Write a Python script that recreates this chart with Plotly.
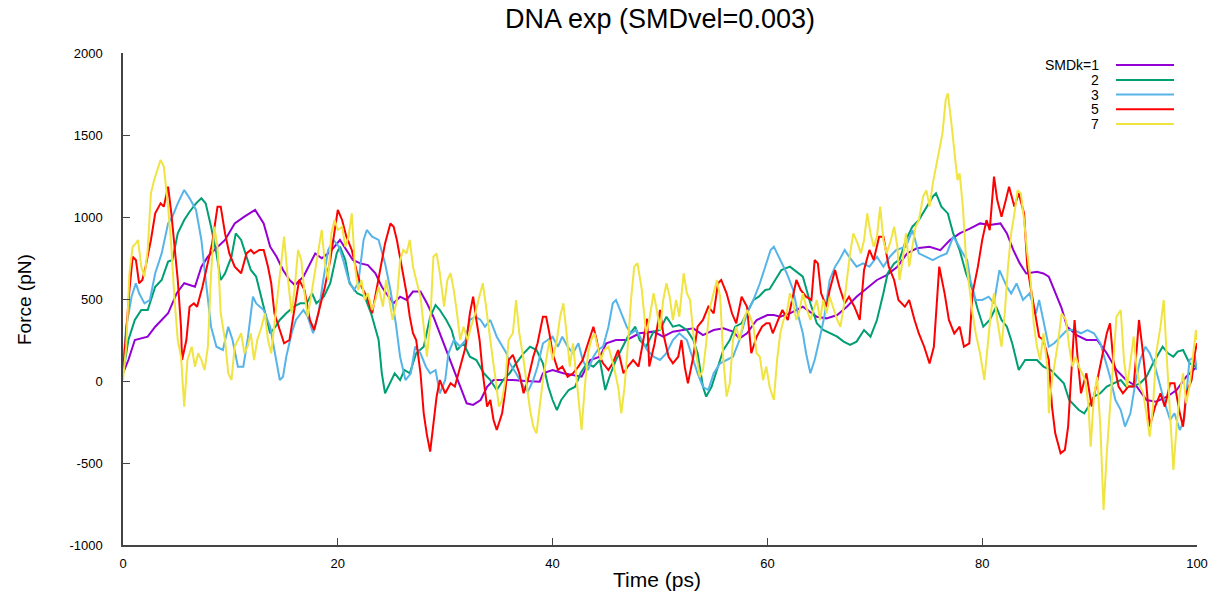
import plotly.graph_objects as go

# ---------------- data ----------------
t_k1 = [0, 0.5, 1.1, 2.3, 3, 4.2, 5, 5.7, 6.7, 7.3, 7.9, 8.5, 9.5, 10.4, 11.3, 12.3,
        13.1, 13.7, 14.3, 14.9, 15.5, 16, 16.8, 17.4, 17.9, 18.5, 19.1, 19.7, 20.2, 20.8,
        21.4, 22.1, 22.8, 23.5, 24.1, 24.5, 25.2, 25.8, 26.4, 27, 27.7, 28.3, 28.9, 29.5,
        30.1, 30.8, 31.4, 32, 32.6, 33.3, 33.9, 34.5, 35.4, 36.3, 37.5, 38.8, 39.1, 40, 41,
        41.9, 42.7, 43.5, 44.4, 45, 45.9, 46.9, 48.1, 49.4, 50.3, 51.2, 52.2, 53.1, 54, 55,
        55.9, 56.8, 57.4, 58.1, 59, 60, 60.6, 61.2, 62.1, 63.3, 64.6, 65.5, 66.5, 67.4, 68.3,
        69.3, 70.2, 71.1, 72.1, 73, 73.9, 75.1, 76.1, 77, 77.9, 78.9, 79.8, 80.7, 81.7, 82.3,
        82.9, 83.5, 84.1, 85.1, 85.7, 86.2, 86.8, 87.4, 87.9, 88.8, 89.7, 90.7, 91.6, 92.5,
        93.4, 94.4, 95.3, 96.2, 97.2, 98.1, 99, 100]
f_k1 = [47, 128, 250, 270, 331, 413, 535, 596, 575, 697, 758, 799, 860, 961, 1002, 1043,
        961, 819, 758, 677, 616, 585, 636, 717, 778, 748, 778, 819, 860, 799,
        738, 717, 707, 656, 575, 535, 474, 514, 494, 545, 545, 474, 392, 291,
        189, 67, -35, -136, -146, -116, -35, 6, 6, 6, 0, -4, 47, 67, 47,
        37, 26, 128, 148, 230, 250, 250, 291, 301, 270, 301, 311, 321, 280, 311,
        321, 301, 260, 291, 372, 402, 402, 392, 413, 453, 392, 382, 402, 453, 514,
        565, 616, 646, 697, 778, 809, 819, 798, 859, 900, 931, 961, 951, 961, 900,
        798, 717, 656, 666, 656, 636, 535, 443, 331, 280, 250, 250, 169, 67,
        6, -35, -116, -126, -96, -55, 26, 87]

t_k2 = [0, 0.5, 1.1, 1.7, 2.3, 3, 3.6, 4.2, 4.6, 5.1, 5.7, 6.2, 6.8, 7.3, 7.7, 8.2, 8.7,
        9.1, 9.5, 10.1, 10.5, 11, 11.4, 11.9, 12.4, 12.9, 13.4, 13.7, 14.2, 14.6, 15.2,
        15.9, 16.5, 17.1, 17.6, 18, 18.7, 19.3, 19.9, 20.2, 20.7, 21.1, 21.8, 22.5, 23.1,
        23.8, 24.1, 24.4, 24.7, 25.3, 25.8, 26.2, 26.7, 27.3, 28, 28.6, 29.1, 29.5, 30.1,
        30.6, 31.1, 31.7, 32.3, 32.9, 33.6, 34.2, 34.8, 35.4, 36, 36.6, 37.3, 37.9, 38.5,
        39.1, 39.6, 40, 40.4, 40.8, 41.5, 42.1, 42.6, 43.2, 43.8, 44.4, 44.9, 45.3, 45.9,
        46.5, 47, 47.7, 48.1, 48.7, 49.4, 50, 50.6, 51.2, 51.8, 52.5, 53.1, 53.5, 54, 54.3,
        54.8, 55.2, 55.9, 56.5, 57, 57.6, 58.1, 58.7, 59.2, 59.8, 60.2, 60.7, 61.3, 62.1,
        62.7, 63.3, 64, 64.6, 65.2, 65.8, 66.5, 67.1, 67.7, 68.3, 69, 69.6, 70.2, 70.8,
        71.2, 71.8, 72.3, 72.9, 73.5, 74.1, 74.8, 75.4, 75.7, 76.2, 76.8, 77.3, 77.9, 78.5,
        79.1, 79.6, 80.1, 80.7, 81.3, 81.8, 82.3, 82.8, 83.4, 84, 84.6, 85.1, 85.7, 86.4,
        87, 87.6, 88.1, 88.5, 89, 89.5, 89.9, 90.4, 91, 91.6, 92.3, 92.9, 93.4, 94, 94.7,
        95.3, 95.9, 96.4, 96.8, 97.3, 97.8, 98.2, 98.7, 99.3, 99.9, 100]
f_k2 = [47, 250, 372, 433, 433, 575, 616, 728, 738, 900, 982, 1032, 1083, 1114, 1083, 941, 778,
        616, 656, 758, 900, 860, 778, 677, 636, 494, 372, 291, 331, 372, 413,
        453, 474, 474, 535, 474, 514, 596, 778, 819, 738, 596, 535, 514, 413,
        250, 47, -75, -35, 47, 6, 67, 47, 169, 209, 392, 463, 433, 372,
        311, 189, 230, 148, 128, 47, 6, -55, 6, 47, 108, 169, 209, 189,
        108, -35, -116, -177, -116, -55, -35, 47, 108, 87, 128, -55, 26, 128,
        209, 270, 331, 250, 209, 301, 311, 392, 331, 341, 311, 250, 169, -35, -95,
        -35, 47, 189, 250, 331, 352, 413, 494, 514, 555, 560, 616, 677, 697,
        667, 636, 474, 352, 311, 291, 270, 240, 220, 240, 311, 270, 372, 535,
        657, 717, 740, 859, 941, 981, 1063, 1124, 1144, 1063, 1022, 900, 798, 656,
        555, 433, 331, 372, 453, 372, 331, 229, 67, 128, 128, 128, 88, 67,
        26, -14, -116, -146, -177, -197, -156, -95, -75, -34, -14, 6, -34, -34, -14,
        26, 108, 169, 209, 169, 148, 179, 189, 108, 88, 100]

t_k3 = [0, 0.3, 0.8, 1.2, 1.5, 2, 2.5, 3, 3.6, 4.2, 4.6, 5.1, 5.7, 6.2, 6.8, 7.3, 7.7, 8.2,
        8.7, 9.3, 9.8, 10.2, 10.7, 11.2, 11.6, 12.1, 12.4, 13.1, 13.7, 14.2, 14.6, 14.9,
        15.2, 15.7, 16.1, 16.8, 17.2, 17.7, 18.2, 18.6, 19.1, 19.6, 20.1, 20.5, 21, 21.5,
        21.9, 22.4, 22.7, 23.2, 23.8, 24.4, 24.9, 25.4, 25.8, 26.3, 26.8, 27.2, 27.7, 28.2,
        28.6, 29.1, 29.5, 30, 30.3, 30.8, 31.4, 31.9, 32.3, 32.8, 33.3, 33.7, 34.2, 34.8,
        35.3, 35.7, 36, 36.6, 37.3, 37.7, 38.2, 38.6, 39.1, 39.6, 40, 40.5, 40.9, 41.4,
        41.9, 42.4, 42.8, 43.3, 43.8, 44.2, 44.7, 45.2, 45.6, 45.9, 46.4, 46.9, 47.3, 47.8,
        48.3, 48.8, 49.4, 50, 50.6, 51.2, 51.8, 52.5, 53.1, 53.5, 54, 54.5, 55, 55.6, 56.2,
        56.8, 57.4, 58.1, 58.7, 59.3, 59.8, 60.3, 60.6, 61.2, 61.8, 62.4, 62.9, 63.3, 63.6,
        64, 64.4, 64.9, 65.3, 65.8, 66.3, 66.7, 67.2, 67.6, 68.3, 68.9, 69.5, 70.2, 70.8,
        71.4, 72, 72.9, 73.5, 74.1, 74.8, 75.4, 76, 76.7, 77.3, 77.7, 78.2, 78.6, 78.9,
        79.4, 80, 80.6, 81.1, 81.6, 82.3, 82.7, 83.2, 83.8, 84.4, 85, 85.3, 85.7, 86.2,
        86.7, 87.3, 87.9, 88.5, 89.2, 89.8, 90.4, 91, 91.5, 91.9, 92.4, 92.9, 93.3, 93.8,
        94.2, 94.7, 95.2, 95.6, 96.1, 96.6, 97, 97.5, 97.9, 98.4, 98.8, 99.3, 99.8, 100]
f_k3 = [87, 331, 515, 595, 535, 473, 494, 657, 778, 961, 1002, 1083, 1165, 1114, 1043, 860, 616, 331,
        209, 189, 331, 250, 87, 87, 250, 514, 473, 433, 331, 148, 6, 26,
        148, 291, 372, 433, 392, 291, 413, 596, 799, 860, 820, 738, 616, 555,
        596, 860, 921, 880, 860, 717, 555, 352, 148, 6, 47, 209, 169, 87,
        47, 67, -75, 6, 169, 250, 209, 250, 372, 392, 372, 331, 372, 270,
        209, 169, 108, 47, -35, -65, 6, 88, 230, 250, 270, 209, 270, 209,
        169, 230, 128, 67, 148, 189, 209, 331, 474, 494, 413, 331, 291, 311,
        250, 189, 148, 128, 169, 250, 291, 250, 128, 47, -35, -55, 47, 108, 128,
        148, 250, 413, 494, 596, 697, 799, 819, 738, 657, 555, 392, 291, 169,
        47, 128, 270, 392, 616, 697, 738, 799, 758, 697, 717, 697, 758, 697,
        758, 799, 819, 920, 778, 758, 737, 758, 778, 880, 839, 778, 737, 616,
        494, 494, 514, 474, 676, 575, 534, 595, 494, 534, 412, 494, 372, 209,
        230, 270, 311, 311, 291, 311, 291, 230, 108, 26, -116, -177, -278, -197,
        -34, 128, 209, 169, 88, -34, -136, -238, -197, -299, -238, 128, 148, 67]

t_k5 = [0, 0.3, 0.6, 0.9, 1.2, 1.5, 1.8, 2.1, 2.6, 3, 3.5, 3.8, 4.2, 4.5, 4.8, 5.1, 5.4, 5.5,
        5.9, 6.2, 6.6, 6.9, 7.4, 7.8, 8.3, 8.8, 9.1, 9.5, 9.9, 10.4, 11, 11.5, 11.9, 12.2,
        12.7, 13.1, 13.5, 13.8, 14.1, 14.6, 15, 15.5, 15.9, 16.4, 16.9, 17.4, 17.8, 18.3,
        18.8, 19.3, 19.7, 20, 20.4, 20.8, 21.3, 21.8, 22.2, 22.7, 23.2, 23.6, 24.1, 24.4,
        24.9, 25.2, 25.5, 25.8, 26.1, 26.4, 26.7, 27, 27.3, 27.7, 28, 28.3, 28.6, 28.9, 29.2,
        29.5, 30, 30.5, 30.9, 31.4, 31.9, 32.3, 32.6, 32.9, 33.2, 33.5, 33.9, 34.2, 34.5,
        34.8, 35.3, 35.6, 35.9, 36.3, 36.9, 37.3, 37.7, 38.2, 38.6, 39.1, 39.4, 39.7, 40,
        40.5, 40.9, 41.4, 41.9, 42.4, 42.8, 43.3, 43.8, 44.1, 44.4, 44.7, 45.2, 45.6, 46.1,
        46.6, 47, 47.5, 48, 48.4, 48.8, 49, 49.5, 50, 50.3, 50.8, 51.2, 51.7, 52, 52.3, 52.6,
        53.1, 53.5, 54, 54.5, 55, 55.4, 55.7, 56.2, 56.7, 57.1, 57.6, 58.1, 58.5, 59, 59.5,
        59.9, 60.2, 60.5, 61, 61.4, 61.9, 62.4, 62.7, 63.1, 63.6, 64.1, 64.4, 64.7, 65, 65.5,
        65.8, 66.3, 66.7, 67.2, 67.6, 68.1, 68.6, 69, 69.5, 69.9, 70.4, 70.8, 71.3, 71.8,
        72.2, 72.8, 73.2, 73.7, 74.1, 74.6, 75.1, 75.5, 76, 76.5, 76.9, 77.4, 77.9, 78.3,
        78.8, 79.1, 79.6, 80, 80.4, 80.7, 81.1, 81.4, 81.8, 82.2, 82.5, 83, 83.4, 83.9,
        84.2, 84.5, 84.8, 85.3, 85.7, 86.2, 86.5, 86.8, 87.3, 87.7, 88, 88.3, 88.6, 88.9,
        89.2, 89.7, 90.2, 90.6, 91.1, 91.6, 91.9, 92.2, 92.7, 93.1, 93.6, 94.1, 94.4, 94.6,
        94.9, 95.3, 95.6, 96.1, 96.6, 97, 97.5, 97.9, 98.4, 98.7, 99, 99.5, 99.8, 100]
f_k5 = [47, 331, 555, 758, 738, 596, 616, 697, 860, 1022, 1083, 1063, 1185, 1022, 799, 616, 331, 128,
        250, 453, 473, 453, 575, 697, 839, 1063, 1063, 900, 778, 697, 657, 778, 799, 778,
        799, 799, 697, 596, 413, 311, 230, 250, 413, 616, 555, 372, 311, 453,
        575, 738, 900, 1043, 982, 880, 799, 657, 575, 514, 413, 555, 738, 839,
        961, 941, 860, 758, 657, 535, 392, 291, 250, 47, -197, -330, -430, -260, -95,
        6, -75, -14, -34, 87, 209, 413, 514, 372, 250, 47, -156, -116, -238,
        -299, -197, -55, 128, 160, 47, -75, 6, 148, 230, 392, 392, 291, 169,
        67, 88, 26, 47, 88, 128, 230, 331, 250, 148, 108, 67, 108, 189,
        47, 88, 128, 88, 230, 380, 88, 230, 433, 291, 148, 108, 148, 250, 88, -14,
        148, 331, 372, 453, 413, 596, 616, 535, 413, 352, 514, 453, 169, 270, 331,
        352, 352, 291, 372, 433, 372, 535, 616, 555, 514, 494, 738, 717, 535, 453,
        555, 677, 575, 474, 514, 453, 372, 677, 799, 738, 880, 880, 697, 616,
        494, 453, 494, 372, 290, 209, 107, 209, 697, 534, 372, 290, 331, 209,
        229, 534, 697, 859, 981, 920, 1246, 1103, 1002, 1103, 1185, 1063, 1144, 1022,
        697, 575, 453, 270, 250, 128, -156, -319, -441, -420, -278, 47, 372, 128,
        -75, 47, -156, -34, 128, 291, 352, 128, -34, -75, -34, -34, 209, 372,
        209, -34, -278, -156, -75, -156, -14, -14, -197, -278, -75, 6, 169, 230]

t_k7 = [0, 0.3, 0.6, 0.9, 1.2, 1.4, 1.7, 2, 2.3, 2.6, 2.9, 3.2, 3.5, 3.8, 4.2, 4.5, 4.8, 5.1,
        5.4, 5.7, 6, 6.4, 6.7, 7, 7.3, 7.6, 7.9, 8.2, 8.5, 8.8, 9.1, 9.5, 9.8, 10.1, 10.4,
        10.7, 11, 11.3, 11.6, 11.9, 12.2, 12.5, 12.9, 13.2, 13.5, 13.8, 14.3, 14.7, 15, 15.3,
        15.7, 16, 16.3, 16.6, 16.9, 17.2, 17.5, 17.9, 18.2, 18.5, 18.8, 19.1, 19.4, 19.7,
        20, 20.4, 20.7, 21, 21.3, 21.6, 21.9, 22.2, 22.5, 22.8, 23.2, 23.5, 23.8, 24.2,
        24.5, 24.8, 25.1, 25.5, 25.8, 26.1, 26.4, 26.7, 27, 27.3, 27.7, 28, 28.3, 28.6,
        28.9, 29.2, 29.5, 29.9, 30.2, 30.5, 30.8, 31.1, 31.4, 31.7, 32.1, 32.4, 32.8, 33.1,
        33.5, 33.8, 34.1, 34.4, 34.7, 35, 35.3, 35.6, 35.9, 36.3, 36.6, 36.9, 37.3, 37.6,
        37.9, 38.2, 38.5, 38.8, 39.1, 39.4, 39.7, 40, 40.4, 40.7, 41, 41.3, 41.6, 41.9,
        42.2, 42.5, 42.7, 43, 43.3, 43.6, 43.9, 44.2, 44.5, 44.8, 45.2, 45.7, 46.1, 46.4,
        46.7, 47, 47.3, 47.6, 47.9, 48.3, 48.7, 49, 49.4, 49.7, 50, 50.3, 50.6, 50.9, 51.2,
        51.5, 51.8, 52.2, 52.5, 52.8, 53.1, 53.4, 53.7, 54, 54.3, 54.6, 55, 55.3, 55.6,
        55.9, 56.2, 56.5, 56.8, 57.1, 57.4, 57.8, 58.1, 58.4, 58.7, 59, 59.3, 59.6, 59.9,
        60.2, 60.6, 60.9, 61.2, 61.5, 61.8, 62.1, 62.4, 62.7, 63, 63.3, 63.6, 64, 64.3,
        64.6, 64.9, 65.2, 65.5, 65.8, 66.1, 66.5, 66.8, 67.1, 67.4, 67.7, 68, 68.4, 68.7,
        69, 69.3, 69.6, 69.9, 70.2, 70.5, 70.8, 71.1, 71.5, 71.8, 72.1, 72.3, 72.6, 72.9,
        73.2, 73.5, 73.8, 74.1, 74.5, 74.8, 75.1, 75.4, 75.7, 76, 76.3, 76.6, 76.8, 77.1,
        77.4, 77.7, 77.9, 78.2, 78.5, 78.8, 79.1, 79.4, 79.8, 80.2, 80.5, 80.8, 81.1, 81.4,
        81.8, 82.1, 82.4, 82.7, 83, 83.3, 83.6, 83.9, 84.2, 84.5, 84.8, 85.1, 85.4, 85.7,
        86.1, 86.2, 86.5, 87, 87.4, 87.8, 88.1, 88.4, 88.7, 89, 89.3, 89.6, 89.9, 90.1,
        90.4, 90.7, 91, 91.2, 91.3, 91.6, 91.9, 92.2, 92.5, 92.9, 93.2, 93.5, 93.8, 94.1,
        94.4, 94.7, 95, 95.3, 95.6, 95.9, 96.2, 96.6, 96.9, 97.2, 97.5, 97.8, 98.1, 98.4,
        98.7, 99, 99.3, 99.6, 99.9, 100]
f_k7 = [6, 209, 657, 819, 839, 860, 697, 636, 799, 1144, 1226, 1287, 1348, 1307, 1063, 819, 494, 250,
        148, -156, 128, 209, 87, 169, 128, 67, 209, 657, 941, 819, 412, 250, 47, 6, 209,
        250, 291, 169, 209, 291, 128, 250, 331, 412, 250, 169, 453, 697, 880, 657,
        412, 575, 799, 738, 535, 392, 514, 657, 778, 921, 717, 616, 900, 982,
        921, 941, 819, 880, 1022, 697, 555, 616, 494, 535, 433, 494, 575, 453,
        616, 494, 372, 494, 738, 799, 778, 860, 697, 616, 514, 331, 148, 352,
        758, 778, 657, 453, 616, 657, 555, 412, 250, 331, 250, 331, 412, 494,
        596, 453, 291, 148, 6, -156, -116, 6, 250, 291, 494, 291, 128, -35,
        -177, -278, -319, -156, 6, 128, 250, 128, 250, 392, 474, 291, 88, 230,
        47, -156, -298, -35, 169, 250, 291, 209, 128, 189, 209, 88, -35, -197,
        -35, 209, 494, 697, 718, 560, 291, 372, 535, 433, 311, 494, 596, 514, 372,
        494, 392, 657, 535, 494, 291, 148, 26, 67, 230, 433, 535, 616, 514,
        128, -95, -14, 250, 331, 250, 372, 433, 392, 331, 169, 148, 6, 88,
        -35, -116, 128, 291, 372, 413, 535, 474, 372, 433, 535, 453, 372, 433,
        494, 372, 494, 413, 514, 453, 372, 331, 453, 616, 778, 900, 839, 778,
        860, 1022, 900, 819, 880, 1063, 860, 778, 860, 941, 819, 616, 737, 900,
        697, 819, 941, 981, 1124, 1164, 1063, 1205, 1307, 1429, 1510, 1713, 1754, 1591,
        1388, 1225, 1266, 1063, 737, 575, 412, 290, 168, 6, 209, 412, 534, 372,
        209, 412, 697, 900, 1022, 1164, 1144, 981, 778, 620, 350, 209, 128, 291,
        67, -197, 6, 209, 412, 372, 209, 88, 148, 88, 47, 6, -156, -400,
        -95, 26, -278, -705, -786, -441, -156, 169, 392, 433, 128, -34, 128, 270,
        67, -34, -75, -197, -339, -156, 169, 331, 494, 128, -238, -543, -278, -75,
        47, -136, -34, 128, 311, 250]

series_names = ["SMDk=1", "2", "3", "5", "7"]
series_colors = ["#9400d3", "#009e73", "#56b4e9", "#ff0000", "#f0e442"]
times = [t_k1, t_k2, t_k3, t_k5, t_k7]
forces = [f_k1, f_k2, f_k3, f_k5, f_k7]

x_ticks = [0, 20, 40, 60, 80, 100]
y_ticks = [-1000, -500, 0, 500, 1000, 1500, 2000]
y_tick_text = ["-1000", "-500", "0", "500", "1000", "1500", "2000"]

# ---------------- figure ----------------
FONT = "Liberation Sans, Arial, sans-serif"
W, H = 1212, 592
L, R, T, B = 123, 15, 53, 47
pw, ph = W - L - R, H - T - B

fig = go.Figure()
for name, col, tt, ff in zip(series_names, series_colors, times, forces):
    fig.add_trace(go.Scatter(x=tt, y=ff, mode="lines", name=name,
                             line=dict(color=col, width=2), showlegend=False))

fig.update_layout(
    width=W, height=H, autosize=False,
    margin=dict(l=L, r=R, t=T, b=B, pad=0, autoexpand=False),
    paper_bgcolor="white", plot_bgcolor="white",
    font=dict(family=FONT, color="black"),
    title=dict(text="DNA exp (SMDvel=0.003)", xref="paper", x=0.5, xanchor="center",
               y=1 - 19 / H, yanchor="middle", font=dict(size=27, color="black")),
)
fig.update_xaxes(range=[0, 100], tickvals=x_ticks, ticks="inside", ticklen=7,
                 tickwidth=1, tickcolor="#444", showline=True, linecolor="#444",
                 linewidth=1.5, mirror=False, showgrid=False, zeroline=False,
                 automargin=False,
                 tickfont=dict(size=13, color="black"), ticklabelstandoff=6)
fig.update_yaxes(range=[-1000, 2000], tickvals=y_ticks, ticktext=y_tick_text,
                 ticks="inside", ticklen=7,
                 tickwidth=1, tickcolor="#444", showline=True, linecolor="#444",
                 linewidth=1.5, mirror=False, showgrid=False, zeroline=False,
                 automargin=False,
                 tickfont=dict(size=13, color="black"), ticklabelstandoff=16)

def px_x(px):
    return (px - L) / pw

def px_y(py):
    return (H - B - py) / ph

annotations = [
    dict(text="Time (ps)", x=px_x(657), y=px_y(579), xref="paper", yref="paper",
         showarrow=False, xanchor="center", yanchor="middle",
         font=dict(size=21, color="black")),
    dict(text="Force (pN)", x=px_x(24), y=px_y(300), xref="paper", yref="paper",
         showarrow=False, xanchor="center", yanchor="middle", textangle=-90,
         font=dict(size=19, color="black")),
]
shapes = []
legend_rows = [65, 80, 94.5, 109.3, 124]
for name, col, ry in zip(series_names, series_colors, legend_rows):
    annotations.append(dict(text=name, x=px_x(1101), y=px_y(ry), xref="paper", yref="paper",
                            showarrow=False, xanchor="right", yanchor="middle",
                            font=dict(size=14, color="black")))
    shapes.append(dict(type="line", xref="paper", yref="paper",
                       x0=px_x(1116), x1=px_x(1174), y0=px_y(ry), y1=px_y(ry),
                       line=dict(color=col, width=2)))
fig.update_layout(annotations=annotations, shapes=shapes)

fig.write_html("out.html")
